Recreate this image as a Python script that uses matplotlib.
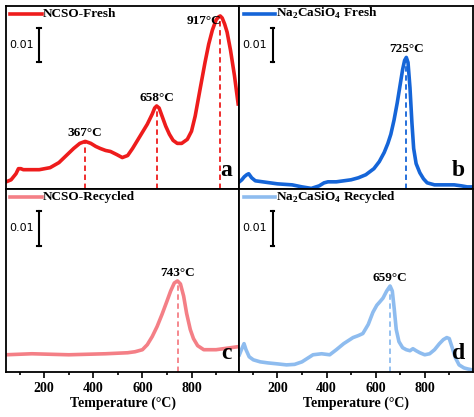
import matplotlib
matplotlib.use("Agg")
import matplotlib.pyplot as plt
import numpy as np

# heights in arbitrary units (0.01 a.u. = 34 units)
a_T = [45, 55, 65, 75, 85, 95, 105, 115, 128, 150, 180, 224, 260, 290, 320, 345, 367, 390, 410, 428, 450, 470, 495, 518, 540, 560, 580, 600, 620, 640, 650, 658, 668, 680, 695, 710, 725, 742, 760, 783, 800, 815, 836, 855, 870, 885, 900, 910, 917, 925, 935, 945, 959, 975, 990]
a_h = [7, 8, 9, 12, 15, 20, 20, 19, 19, 19, 19, 21, 26, 33, 40, 45, 47, 45, 42, 40, 38, 37, 34, 31, 33, 40, 48, 56, 64, 74, 80, 82, 80, 72, 62, 54, 48, 45, 45, 49, 57, 72, 100, 125, 143, 157, 167, 170, 171, 169, 163, 155, 137, 112, 84]
b_T = [45, 55, 65, 75, 83, 95, 110, 140, 200, 260, 300, 338, 370, 390, 406, 440, 470, 500, 530, 560, 593, 615, 635, 650, 662, 675, 688, 700, 710, 718, 725, 732, 740, 748, 755, 765, 780, 795, 810, 840, 880, 920, 950, 973, 995]
b_h = [7, 9, 12, 14, 15, 11, 8, 7, 5, 4, 2, 0.5, 3, 6, 7, 7, 8, 9, 11, 14, 20, 27, 36, 45, 54, 68, 85, 103, 118, 127, 130, 125, 100, 65, 40, 25, 16, 10, 6, 4, 4, 4, 3, 2, 2]
c_T = [45, 150, 300, 450, 540, 570, 600, 620, 640, 660, 680, 700, 715, 730, 743, 755, 768, 780, 795, 808, 825, 850, 900, 990]
c_h = [17, 18, 17, 18, 19, 20, 22, 27, 35, 45, 57, 70, 80, 88, 90, 87, 75, 58, 42, 33, 26, 22, 22, 25]
d_T = [45, 55, 64, 72, 85, 102, 130, 160, 200, 237, 270, 300, 345, 380, 413, 440, 470, 508, 530, 548, 570, 589, 605, 616, 630, 645, 659, 668, 676, 684, 695, 710, 725, 740, 752, 765, 780, 800, 820, 840, 860, 876, 890, 900, 912, 925, 940, 960, 975, 995]
d_h = [17, 23, 28, 22, 15, 12, 10, 9, 8, 7, 7.5, 10, 17, 18, 17, 22, 28, 34, 36, 38, 47, 59, 66, 69, 73, 80, 85, 80, 62, 42, 30, 24, 22, 21, 23, 21, 19, 17, 18, 22, 28, 32, 34, 33, 24, 14, 7, 4, 3, 2]

panels = [
    (a_T, a_h, "#ee1c1c", "NCSO-Fresh", "a", [367, 658, 917]),
    (b_T, b_h, "#1565d8", r"Na$_\mathbf{2}$CaSiO$_\mathbf{4}$ Fresh", "b", [725]),
    (c_T, c_h, "#f47f86", "NCSO-Recycled", "c", [743]),
    (d_T, d_h, "#8ebcef", r"Na$_\mathbf{2}$CaSiO$_\mathbf{4}$ Recycled", "d", [659]),
]

plt.rcParams['mathtext.fontset'] = 'custom'
plt.rcParams['mathtext.rm'] = 'Liberation Serif:bold'
plt.rcParams['mathtext.bf'] = 'Liberation Serif:bold'
serif = dict(family="Liberation Serif", weight="bold")

fig, axes = plt.subplots(2, 2, figsize=(4.74, 4.17), dpi=100, sharex=True)
fig.subplots_adjust(left=0.013, right=0.997, top=0.986, bottom=0.108, wspace=0, hspace=0)

for ax, (T, h, col, lab, letter, peaks) in zip(axes.flat, panels):
    ax.plot(T, h, color=col, lw=2.6, solid_joinstyle="round")
    for p in peaks:
        ph = np.interp(p, T, h)
        ax.plot([p, p], [0, ph], ls=(0, (3, 2)), color=col, lw=1.3)
        if ph > 150:
            ax.text(p + 4, ph - 5, f"{p}°C", ha="right", va="center", fontsize=9.5, **serif)
        else:
            ax.text(p, ph + 2, f"{p}°C", ha="center", va="bottom", fontsize=9.5, **serif)
    ax.set_xlim(45, 995)
    ax.set_ylim(0, 181)
    ax.set_yticks([])
    ax.plot([62, 190], [173, 173], color=col, lw=2.6)
    ax.text(194, 173, lab, va="center", ha="left", fontsize=9.5, **serif)
    ax.plot([180, 180], [125, 159], color="black", lw=1.5)
    ax.plot([172, 188], [159, 159], color="black", lw=1.5)
    ax.plot([172, 188], [125, 125], color="black", lw=1.5)
    ax.text(158, 142, "0.01", ha="right", va="center", fontsize=8)
    ax.text(965, 8, letter, ha="right", va="bottom", fontsize=17, **serif)
    ax.set_xticks([200, 400, 600, 800])
    ax.set_xticks([100, 300, 500, 700, 900], minor=True)
    ax.tick_params(axis="x", which="major", direction="out", length=4, width=1.2, top=False)
    ax.tick_params(axis="x", which="minor", direction="out", length=2.5, width=1.2)
    for s in ax.spines.values():
        s.set_linewidth(1.3)

for ax in axes[0]:
    ax.tick_params(axis="x", which="both", length=0)
for ax in axes[1]:
    for t in ax.get_xticklabels():
        t.set_fontfamily("Liberation Serif"); t.set_fontweight("bold"); t.set_fontsize(10)
    ax.set_xlabel("Temperature (°C)", fontsize=10, labelpad=1, **serif)

fig.savefig("out.png", dpi=100)
